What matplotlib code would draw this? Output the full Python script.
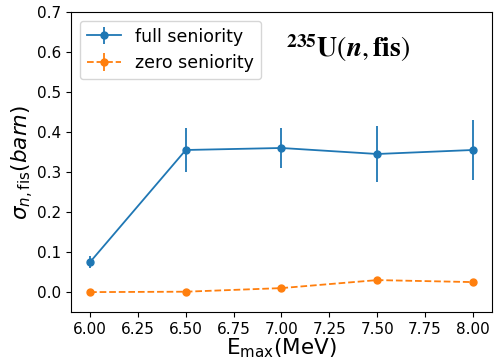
import numpy as np
import matplotlib
matplotlib.use("Agg")
import matplotlib.pyplot as plt

# E_max values and cross sections (barn)
e_max = [6.0, 6.5, 7.0, 7.5, 8.0]
full_sen = [0.075, 0.355, 0.360, 0.345, 0.355]
full_err = [0.015, 0.055, 0.050, 0.070, 0.075]
zero_sen = [0.0, 0.001, 0.010, 0.030, 0.025]
zero_err = [0.002, 0.002, 0.003, 0.004, 0.003]

fig = plt.figure(figsize=(4.96, 3.6), dpi=100)
ax = fig.add_axes([0.143, 0.133, 0.849, 0.834])

ax.errorbar(e_max, full_sen, yerr=full_err, fmt='o-', color='tab:blue',
            ms=5, lw=1.3, label='full seniority')
ax.errorbar(e_max, zero_sen, yerr=zero_err, fmt='o--', color='tab:orange',
            ms=5, lw=1.3, label='zero seniority')

ax.set_ylim(-0.05, 0.7)
ax.set_xlim(5.9, 8.1)
ax.set_xticks(np.arange(6.0, 8.01, 0.25))
ax.tick_params(labelsize=11)

ax.set_xlabel(r'E$_{\mathrm{max}}$(MeV)', fontsize=15.5, labelpad=0)
ax.set_ylabel(r'$\sigma_{n,\mathrm{fis}}(barn)$', fontsize=15.5, labelpad=1)

ax.legend(loc='upper left', fontsize=12.5)
ax.text(0.51, 0.85, r'$^{\mathbf{235}}\mathbf{U}(\mathbfit{n},\mathbf{fis})$',
        transform=ax.transAxes, fontsize=20, va='baseline',
        math_fontfamily='stix')

fig.savefig('out.png', dpi=100)
